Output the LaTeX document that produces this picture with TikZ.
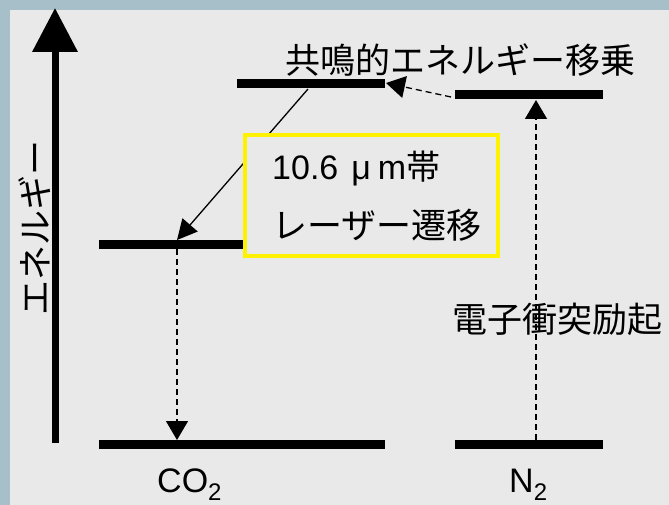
\documentclass[tikz,border=0pt]{standalone}
\usepackage{fontspec}
\setmainfont{Liberation Sans}
\newfontfamily\jp{Noto Sans CJK JP}
\usetikzlibrary{arrows.meta}
\definecolor{framecol}{HTML}{A6BFC8}
\definecolor{bgcol}{HTML}{E9E9E9}
\begin{document}
\begin{tikzpicture}[x=1pt,y=-1pt,
  level/.style={line width=9pt},
  dasharrow/.style={line width=1.3pt, dash pattern=on 6pt off 4pt, -{Triangle[length=19pt,width=22pt]}},
  solidarrow/.style={line width=1.3pt, -{Triangle[length=20pt,width=20pt]}},
  jptext/.style={font=\jp\fontsize{35}{40}\selectfont, inner sep=0pt},
  lattext/.style={font=\fontsize{34}{40}\selectfont, inner sep=0pt}]
\useasboundingbox (0,0) rectangle (669,505);
\fill[framecol] (0,0) rectangle (669,505);
\fill[bgcol] (10,10) rectangle (669,505);

% energy levels
\coordinate (c2L) at (237,84);  \coordinate (c2R) at (385,84);
\coordinate (n1L) at (455,95);  \coordinate (n1R) at (603,95);
\coordinate (c1L) at (99,244);  \coordinate (c1R) at (250,244);
\coordinate (c0L) at (99,444);  \coordinate (c0R) at (385,444);
\coordinate (n0L) at (455,444); \coordinate (n0R) at (603,444);
\draw[level] (c2L) -- (c2R);
\draw[level] (n1L) -- (n1R);
\draw[level] (c1L) -- (c1R);
\draw[level] (c0L) -- (c0R);
\draw[level] (n0L) -- (n0R);

% transitions
\coordinate (tstart) at (451,97);  \coordinate (ttip) at (386,83);
\coordinate (lstart) at (308,89);  \coordinate (ltip) at (177,240);
\coordinate (dstart) at (177,249); \coordinate (dtip) at (177,440);
\coordinate (ustart) at (536,440); \coordinate (utip) at (536,100);
\draw[dasharrow] (tstart) -- (ttip);
\draw[solidarrow] (lstart) -- (ltip);
\draw[dasharrow] (dstart) -- (dtip);
\draw[dasharrow] (ustart) -- (utip);

% energy axis
\coordinate (axb) at (55,443); \coordinate (axt) at (55,8);
\draw[line width=7pt, -{Triangle[length=44pt,width=44pt]}] (axb) -- (axt);
\node[jptext, rotate=90] (elabel) at (35,228) {エネルギー};

% laser box
\node[draw=yellow, line width=4.5pt, fill=bgcol, minimum width=253pt, minimum height=121pt, inner sep=0pt] (box) at (371.5,195.5) {};
\node[lattext, anchor=base west] (l1) at (272,180) {10.6\kern13pt μ\kern7pt m{\jp 帯}};
\node[jptext, anchor=base west] (l2) at (272,238) {レーザー遷移};

% labels
\node[jptext, anchor=base west] (title) at (285,74) {共鳴的エネルギー移乗};
\node[jptext, anchor=base west] (exc) at (452,332) {電子衝突励起};
\node[lattext, anchor=base west] (co2) at (157,492) {CO\raisebox{-8pt}{\fontsize{24}{26}\selectfont 2}};
\node[lattext, anchor=base west] (n2) at (509,492) {N\raisebox{-8pt}{\fontsize{24}{26}\selectfont 2}};
\end{tikzpicture}
\end{document}
